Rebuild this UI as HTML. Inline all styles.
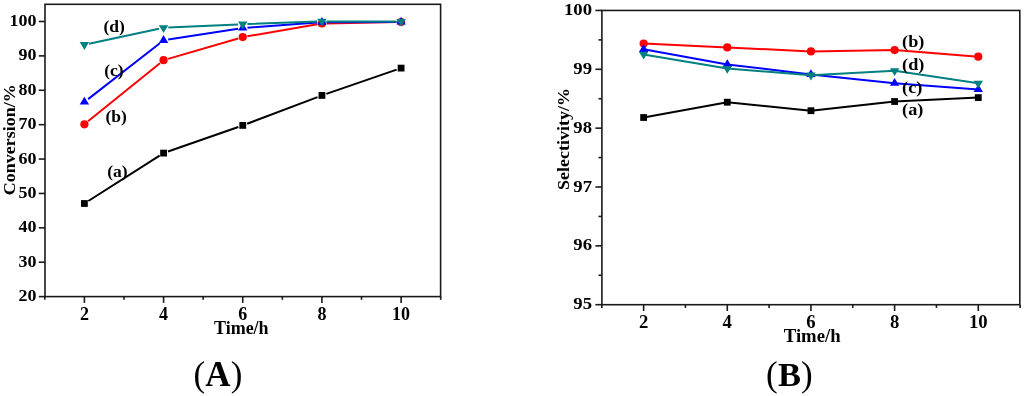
<!DOCTYPE html>
<html><head><meta charset="utf-8"><style>
html,body{margin:0;padding:0;background:#fff;width:1024px;height:396px;overflow:hidden}
svg{display:block}
.txt{filter:grayscale(1)}
text{font-family:"Liberation Serif", serif;fill:#000}
.tk{font-size:18px;font-weight:bold}
.ax{font-size:18px;font-weight:bold}
.lb{font-size:17.5px;font-weight:bold}
.big{font-size:35px;font-weight:bold;letter-spacing:0.2px}
.par{font-weight:normal;font-size:35px}
</style></head><body>
<svg width="1024" height="396" viewBox="0 0 1024 396">
<g>
<rect x="45.0" y="4.3" width="395.60" height="292.30" fill="none" stroke="#1a1a1a" stroke-width="1.6"/>
<line x1="38.80" y1="296.62" x2="45.00" y2="296.62" stroke="#1a1a1a" stroke-width="1.6"/>
<line x1="38.80" y1="262.23" x2="45.00" y2="262.23" stroke="#1a1a1a" stroke-width="1.6"/>
<line x1="38.80" y1="227.84" x2="45.00" y2="227.84" stroke="#1a1a1a" stroke-width="1.6"/>
<line x1="38.80" y1="193.45" x2="45.00" y2="193.45" stroke="#1a1a1a" stroke-width="1.6"/>
<line x1="38.80" y1="159.06" x2="45.00" y2="159.06" stroke="#1a1a1a" stroke-width="1.6"/>
<line x1="38.80" y1="124.67" x2="45.00" y2="124.67" stroke="#1a1a1a" stroke-width="1.6"/>
<line x1="38.80" y1="90.28" x2="45.00" y2="90.28" stroke="#1a1a1a" stroke-width="1.6"/>
<line x1="38.80" y1="55.89" x2="45.00" y2="55.89" stroke="#1a1a1a" stroke-width="1.6"/>
<line x1="38.80" y1="21.50" x2="45.00" y2="21.50" stroke="#1a1a1a" stroke-width="1.6"/>
<line x1="44.80" y1="296.60" x2="44.80" y2="299.80" stroke="#1a1a1a" stroke-width="1.6"/>
<line x1="84.39" y1="296.60" x2="84.39" y2="302.90" stroke="#1a1a1a" stroke-width="1.6"/>
<line x1="123.98" y1="296.60" x2="123.98" y2="299.80" stroke="#1a1a1a" stroke-width="1.6"/>
<line x1="163.57" y1="296.60" x2="163.57" y2="302.90" stroke="#1a1a1a" stroke-width="1.6"/>
<line x1="203.16" y1="296.60" x2="203.16" y2="299.80" stroke="#1a1a1a" stroke-width="1.6"/>
<line x1="242.75" y1="296.60" x2="242.75" y2="302.90" stroke="#1a1a1a" stroke-width="1.6"/>
<line x1="282.34" y1="296.60" x2="282.34" y2="299.80" stroke="#1a1a1a" stroke-width="1.6"/>
<line x1="321.93" y1="296.60" x2="321.93" y2="302.90" stroke="#1a1a1a" stroke-width="1.6"/>
<line x1="361.52" y1="296.60" x2="361.52" y2="299.80" stroke="#1a1a1a" stroke-width="1.6"/>
<line x1="401.11" y1="296.60" x2="401.11" y2="302.90" stroke="#1a1a1a" stroke-width="1.6"/>
<line x1="440.70" y1="296.60" x2="440.70" y2="299.80" stroke="#1a1a1a" stroke-width="1.6"/>
<path d="M88.35 200.98L159.61 155.62M168.01 151.55L238.31 126.95M247.15 123.73L317.53 97.07M326.37 93.87L396.67 69.63" fill="none" stroke="#000000" stroke-width="2.0"/>
<rect x="80.99" y="200.10" width="6.8" height="6.8" fill="#000000"/>
<rect x="160.17" y="149.70" width="6.8" height="6.8" fill="#000000"/>
<rect x="239.35" y="122.00" width="6.8" height="6.8" fill="#000000"/>
<rect x="318.53" y="92.00" width="6.8" height="6.8" fill="#000000"/>
<rect x="397.71" y="64.70" width="6.8" height="6.8" fill="#000000"/>
<path d="M88.04 121.34L159.92 63.16M168.08 58.88L238.24 38.42M247.38 36.30L317.30 24.30M326.63 23.41L396.41 22.09" fill="none" stroke="#ff0000" stroke-width="2.0"/>
<circle cx="84.39" cy="124.30" r="4.1" fill="#ff0000"/>
<circle cx="163.57" cy="60.20" r="4.1" fill="#ff0000"/>
<circle cx="242.75" cy="37.10" r="4.1" fill="#ff0000"/>
<circle cx="321.93" cy="23.50" r="4.1" fill="#ff0000"/>
<circle cx="401.11" cy="22.00" r="4.1" fill="#ff0000"/>
<path d="M88.10 99.11L159.86 43.19M168.21 39.58L238.11 28.72M247.44 27.66L317.24 22.54M326.63 22.18L396.41 21.92" fill="none" stroke="#0000ff" stroke-width="2.0"/>
<polygon points="84.39,96.80 89.09,104.60 79.69,104.60" fill="#0000ff"/>
<polygon points="163.57,35.10 168.27,42.90 158.87,42.90" fill="#0000ff"/>
<polygon points="242.75,22.80 247.45,30.60 238.05,30.60" fill="#0000ff"/>
<polygon points="321.93,17.00 326.63,24.80 317.23,24.80" fill="#0000ff"/>
<polygon points="401.11,16.70 405.81,24.50 396.41,24.50" fill="#0000ff"/>
<path d="M88.99 43.72L158.97 28.78M168.27 27.59L238.05 24.41M247.45 24.03L317.23 21.57M326.63 21.41L396.41 21.59" fill="none" stroke="#008080" stroke-width="2.0"/>
<polygon points="84.39,49.90 89.09,42.10 79.69,42.10" fill="#008080"/>
<polygon points="163.57,33.00 168.27,25.20 158.87,25.20" fill="#008080"/>
<polygon points="242.75,29.40 247.45,21.60 238.05,21.60" fill="#008080"/>
<polygon points="321.93,26.60 326.63,18.80 317.23,18.80" fill="#008080"/>
<polygon points="401.11,26.80 405.81,19.00 396.41,19.00" fill="#008080"/>
<rect x="601.9" y="10.45" width="417.90" height="294.25" fill="none" stroke="#1a1a1a" stroke-width="1.6"/>
<line x1="595.40" y1="304.70" x2="601.90" y2="304.70" stroke="#1a1a1a" stroke-width="1.6"/>
<line x1="598.50" y1="275.27" x2="601.90" y2="275.27" stroke="#1a1a1a" stroke-width="1.6"/>
<line x1="595.40" y1="245.85" x2="601.90" y2="245.85" stroke="#1a1a1a" stroke-width="1.6"/>
<line x1="598.50" y1="216.42" x2="601.90" y2="216.42" stroke="#1a1a1a" stroke-width="1.6"/>
<line x1="595.40" y1="187.00" x2="601.90" y2="187.00" stroke="#1a1a1a" stroke-width="1.6"/>
<line x1="598.50" y1="157.57" x2="601.90" y2="157.57" stroke="#1a1a1a" stroke-width="1.6"/>
<line x1="595.40" y1="128.15" x2="601.90" y2="128.15" stroke="#1a1a1a" stroke-width="1.6"/>
<line x1="598.50" y1="98.73" x2="601.90" y2="98.73" stroke="#1a1a1a" stroke-width="1.6"/>
<line x1="595.40" y1="69.30" x2="601.90" y2="69.30" stroke="#1a1a1a" stroke-width="1.6"/>
<line x1="598.50" y1="39.88" x2="601.90" y2="39.88" stroke="#1a1a1a" stroke-width="1.6"/>
<line x1="595.40" y1="10.45" x2="601.90" y2="10.45" stroke="#1a1a1a" stroke-width="1.6"/>
<line x1="601.80" y1="304.70" x2="601.80" y2="307.90" stroke="#1a1a1a" stroke-width="1.6"/>
<line x1="643.63" y1="304.70" x2="643.63" y2="311.00" stroke="#1a1a1a" stroke-width="1.6"/>
<line x1="685.46" y1="304.70" x2="685.46" y2="307.90" stroke="#1a1a1a" stroke-width="1.6"/>
<line x1="727.29" y1="304.70" x2="727.29" y2="311.00" stroke="#1a1a1a" stroke-width="1.6"/>
<line x1="769.12" y1="304.70" x2="769.12" y2="307.90" stroke="#1a1a1a" stroke-width="1.6"/>
<line x1="810.95" y1="304.70" x2="810.95" y2="311.00" stroke="#1a1a1a" stroke-width="1.6"/>
<line x1="852.78" y1="304.70" x2="852.78" y2="307.90" stroke="#1a1a1a" stroke-width="1.6"/>
<line x1="894.61" y1="304.70" x2="894.61" y2="311.00" stroke="#1a1a1a" stroke-width="1.6"/>
<line x1="936.44" y1="304.70" x2="936.44" y2="307.90" stroke="#1a1a1a" stroke-width="1.6"/>
<line x1="978.27" y1="304.70" x2="978.27" y2="311.00" stroke="#1a1a1a" stroke-width="1.6"/>
<line x1="1020.10" y1="304.70" x2="1020.10" y2="307.90" stroke="#1a1a1a" stroke-width="1.6"/>
<path d="M643.64 117.50L727.28 102.20M727.30 102.20L810.94 110.70M810.96 110.70L894.60 101.50M894.62 101.50L978.26 97.60" fill="none" stroke="#000000" stroke-width="2.0"/>
<rect x="640.23" y="114.10" width="6.8" height="6.8" fill="#000000"/>
<rect x="723.89" y="98.80" width="6.8" height="6.8" fill="#000000"/>
<rect x="807.55" y="107.30" width="6.8" height="6.8" fill="#000000"/>
<rect x="891.21" y="98.10" width="6.8" height="6.8" fill="#000000"/>
<rect x="974.87" y="94.20" width="6.8" height="6.8" fill="#000000"/>
<path d="M643.64 43.50L727.28 47.40M727.30 47.40L810.94 51.40M810.96 51.40L894.60 50.10M894.62 50.10L978.26 56.70" fill="none" stroke="#ff0000" stroke-width="2.0"/>
<circle cx="643.63" cy="43.50" r="4.1" fill="#ff0000"/>
<circle cx="727.29" cy="47.40" r="4.1" fill="#ff0000"/>
<circle cx="810.95" cy="51.40" r="4.1" fill="#ff0000"/>
<circle cx="894.61" cy="50.10" r="4.1" fill="#ff0000"/>
<circle cx="978.27" cy="56.70" r="4.1" fill="#ff0000"/>
<path d="M643.64 49.30L727.28 64.40M727.30 64.40L810.94 74.50M810.96 74.50L894.60 83.20M894.62 83.20L978.26 89.50" fill="none" stroke="#0000ff" stroke-width="2.0"/>
<polygon points="643.63,44.10 648.33,51.90 638.93,51.90" fill="#0000ff"/>
<polygon points="727.29,59.20 731.99,67.00 722.59,67.00" fill="#0000ff"/>
<polygon points="810.95,69.30 815.65,77.10 806.25,77.10" fill="#0000ff"/>
<polygon points="894.61,78.00 899.31,85.80 889.91,85.80" fill="#0000ff"/>
<polygon points="978.27,84.30 982.97,92.10 973.57,92.10" fill="#0000ff"/>
<path d="M643.64 54.40L727.28 68.50M727.30 68.50L810.94 75.20M810.96 75.20L894.60 70.80M894.62 70.80L978.26 83.30" fill="none" stroke="#008080" stroke-width="2.0"/>
<polygon points="643.63,59.60 648.33,51.80 638.93,51.80" fill="#008080"/>
<polygon points="727.29,73.70 731.99,65.90 722.59,65.90" fill="#008080"/>
<polygon points="810.95,80.40 815.65,72.60 806.25,72.60" fill="#008080"/>
<polygon points="894.61,76.00 899.31,68.20 889.91,68.20" fill="#008080"/>
<polygon points="978.27,88.50 982.97,80.70 973.57,80.70" fill="#008080"/>
</g>
<g class="txt">
<text transform="translate(36.40,301.07) scale(1.0,0.93)" text-anchor="end" class="tk">20</text>
<text transform="translate(36.40,266.68) scale(1.0,0.93)" text-anchor="end" class="tk">30</text>
<text transform="translate(36.40,232.29) scale(1.0,0.93)" text-anchor="end" class="tk">40</text>
<text transform="translate(36.40,197.90) scale(1.0,0.93)" text-anchor="end" class="tk">50</text>
<text transform="translate(36.40,163.51) scale(1.0,0.93)" text-anchor="end" class="tk">60</text>
<text transform="translate(36.40,129.12) scale(1.0,0.93)" text-anchor="end" class="tk">70</text>
<text transform="translate(36.40,94.73) scale(1.0,0.93)" text-anchor="end" class="tk">80</text>
<text transform="translate(36.40,60.34) scale(1.0,0.93)" text-anchor="end" class="tk">90</text>
<text transform="translate(36.40,25.95) scale(1.0,0.93)" text-anchor="end" class="tk">100</text>
<text transform="translate(84.39,319.50)" text-anchor="middle" class="tk">2</text>
<text transform="translate(163.57,319.50)" text-anchor="middle" class="tk">4</text>
<text transform="translate(242.75,319.50)" text-anchor="middle" class="tk">6</text>
<text transform="translate(321.93,319.50)" text-anchor="middle" class="tk">8</text>
<text transform="translate(401.11,319.50)" text-anchor="middle" class="tk">10</text>
<text transform="translate(241.30,333.80)" text-anchor="middle" class="ax">Time/h</text>
<text transform="translate(15.40,139.70) rotate(-90) scale(1.0,0.88)" text-anchor="middle" class="ax">Conversion/%</text>
<text transform="translate(103.50,32.00)" class="lb">(d)</text>
<text transform="translate(104.20,76.30)" class="lb">(c)</text>
<text transform="translate(105.40,121.50)" class="lb">(b)</text>
<text transform="translate(107.15,176.50)" class="lb">(a)</text>
<text transform="translate(218.00,386.30)" text-anchor="middle" class="big"><tspan class="par">(</tspan>A<tspan class="par">)</tspan></text>
<text transform="translate(592.00,309.30) scale(1.04,0.94)" text-anchor="end" class="tk">95</text>
<text transform="translate(592.00,250.45) scale(1.04,0.94)" text-anchor="end" class="tk">96</text>
<text transform="translate(592.00,191.60) scale(1.04,0.94)" text-anchor="end" class="tk">97</text>
<text transform="translate(592.00,132.75) scale(1.04,0.94)" text-anchor="end" class="tk">98</text>
<text transform="translate(592.00,73.90) scale(1.04,0.94)" text-anchor="end" class="tk">99</text>
<text transform="translate(592.00,15.05) scale(1.04,0.94)" text-anchor="end" class="tk">100</text>
<text transform="translate(643.63,328.00) scale(1.04,1.0)" text-anchor="middle" class="tk">2</text>
<text transform="translate(727.29,328.00) scale(1.04,1.0)" text-anchor="middle" class="tk">4</text>
<text transform="translate(810.95,328.00) scale(1.04,1.0)" text-anchor="middle" class="tk">6</text>
<text transform="translate(894.61,328.00) scale(1.04,1.0)" text-anchor="middle" class="tk">8</text>
<text transform="translate(978.27,328.00) scale(1.04,1.0)" text-anchor="middle" class="tk">10</text>
<text transform="translate(812.20,342.20) scale(1.04,1.0)" text-anchor="middle" class="ax">Time/h</text>
<text transform="translate(569.20,139.00) rotate(-90) scale(1.0,0.88)" text-anchor="middle" class="ax">Selectivity/%</text>
<text transform="translate(902.10,46.80) scale(1.04,1.0)" class="lb">(b)</text>
<text transform="translate(902.10,70.40) scale(1.04,1.0)" class="lb">(d)</text>
<text transform="translate(902.10,92.50) scale(1.04,1.0)" class="lb">(c)</text>
<text transform="translate(902.10,114.80) scale(1.04,1.0)" class="lb">(a)</text>
<text transform="translate(789.50,386.30)" text-anchor="middle" class="big"><tspan class="par">(</tspan><tspan style="font-size:34.5px">B</tspan><tspan class="par">)</tspan></text>
</g>
</svg>
</body></html>
